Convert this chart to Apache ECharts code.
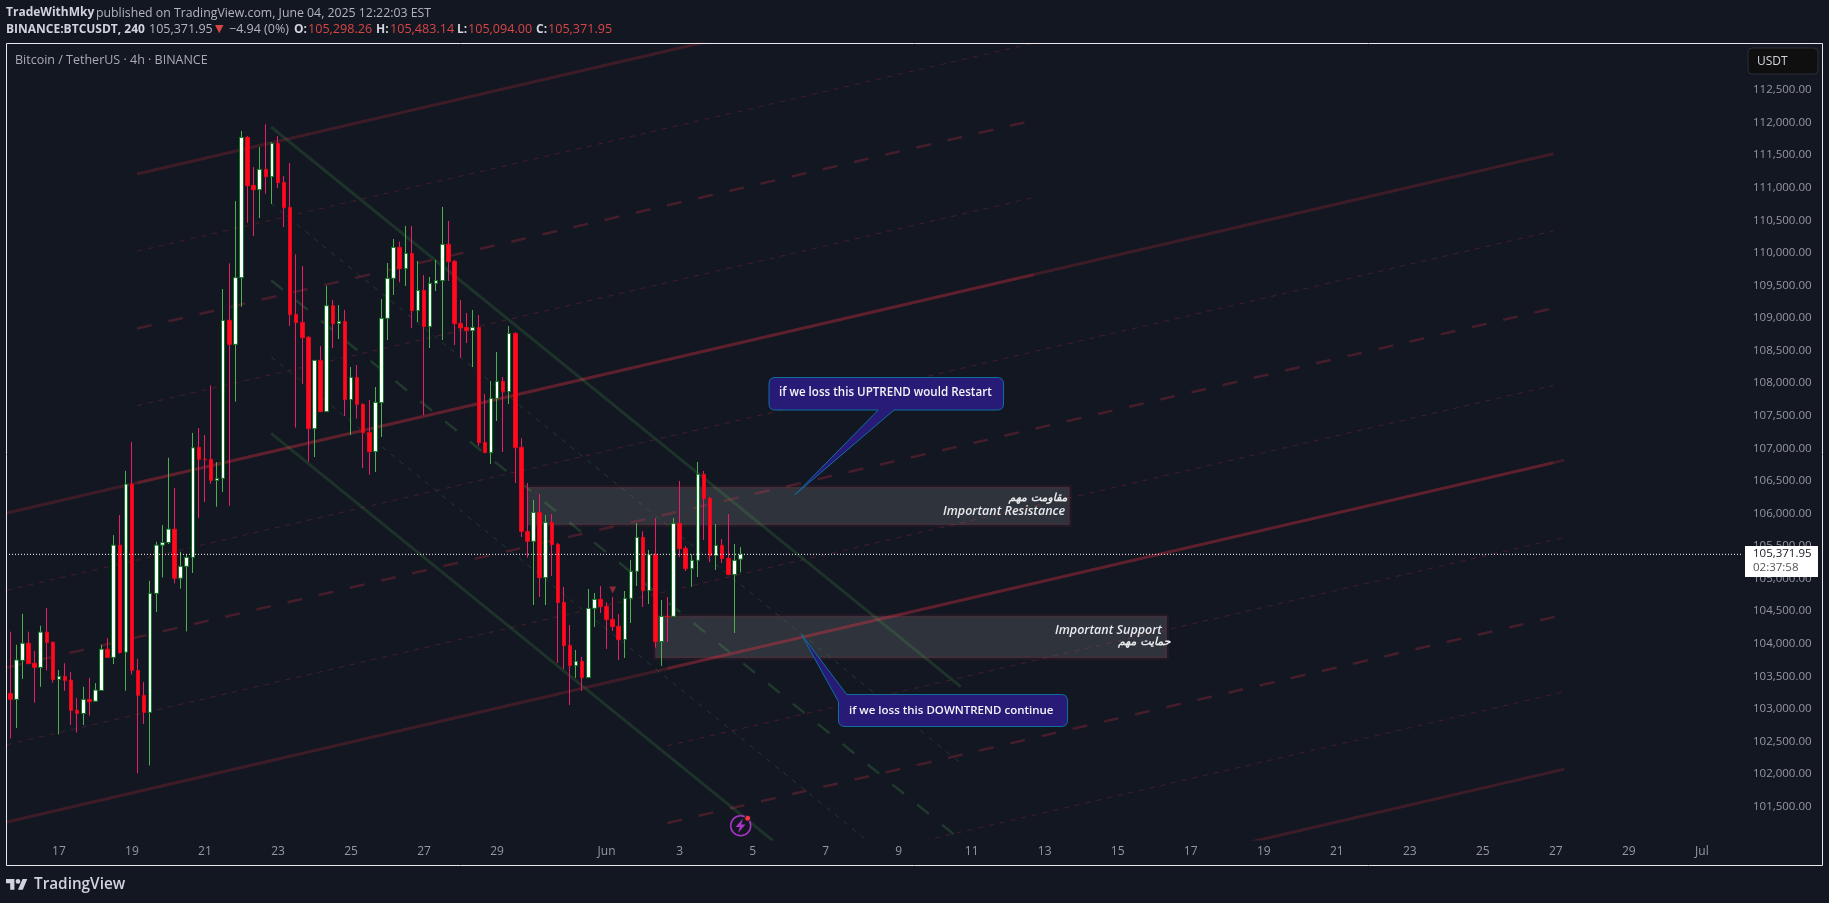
<!DOCTYPE html>
<html>
<head>
<meta charset="utf-8">
<title>BTCUSDT 4h</title>
<style>
html, body { margin: 0; padding: 0; background: #131722; }
#chart { width: 1829px; height: 903px; }
</style>
<script src="https://cdn.jsdelivr.net/npm/echarts@6/dist/echarts.min.js"></script>
</head>
<body>
<div id="chart"></div>
<script>
// 4h candles
var priceOpen = [103237,103145,103744,104007,103699,103636,104178,104024,103453,103499,103442,102980,102928,103145,103117,103282,103916,103790,105513,103870,106449,103590,103208,102946,104772,105513,105553,105759,105005,105188,105325,107014,106831,106830,106507,106538,108964,108595,109619,111773,111036,110969,111282,111169,111681,111082,110698,109056,108933,108703,107301,108350,107562,109189,108913,108948,107746,108089,107674,107244,106948,107700,108995,109609,110085,109757,109992,109112,109424,108867,109532,109573,110131,109870,108918,108856,108805,108856,107091,106932,107766,108027,107869,108764,107015,105725,105572,106017,105014,105863,105526,104635,103975,103663,103730,103479,104543,104681,104574,104374,104267,104062,104697,105111,105633,104814,105372,104032,104420,104420,105848,105464,105152,105280,106600,106232,105352,105510,105311,105060,105298];
var priceHigh = [104184,103984,104458,104184,103887,104275,104549,104024,103596,103699,103568,103168,103339,103476,103396,103984,104087,105667,105975,106654,107100,103767,103413,104966,105565,105821,106854,106392,105411,105371,107236,107311,107202,107966,106789,109445,109839,110795,111870,111793,111317,111624,111973,111701,111793,111179,111379,109977,109798,108723,108350,108570,109491,109276,109199,109123,108247,108278,107690,107741,107941,109291,109844,110212,110172,110412,110412,109875,109660,109629,109890,110704,110489,109890,109276,109077,109123,109046,107833,108033,108478,108094,108877,108780,107153,106467,106206,106298,105976,105991,105546,104871,104287,103904,103796,104840,104779,104886,104635,104717,104456,104809,105285,105853,105725,105439,105930,104671,104717,105930,106498,105500,105372,106790,106651,106252,105838,105608,105991,105531,105483];
var priceLow = [102546,102706,103459,103693,103094,103339,103590,103402,102609,103277,102752,102637,102752,102894,103117,103282,103790,103687,103847,103277,103528,102010,102769,102130,104486,105017,105530,104926,104846,104189,105085,105930,106175,106456,106103,106328,106118,107715,109173,110463,110258,110534,110908,110750,110995,110396,108877,107316,107986,106794,106866,107562,107562,108539,108677,107495,107204,107454,106697,106595,106636,107173,108662,109353,109547,109491,108846,108938,107511,108539,109414,108662,109568,108585,108391,108616,108247,107035,106932,106758,107419,106943,107680,106467,105638,105321,104594,104717,104594,105040,103704,103612,103059,103474,103274,103479,104257,104472,103919,104195,103750,103781,104318,104886,104564,104610,103939,103658,104026,104420,105331,105116,104871,105024,105592,105254,105132,105239,105060,104165,105094];
var priceClose = [103145,103750,104007,103693,103636,104178,104018,103448,103499,103436,102974,102928,103145,103111,103288,103916,103790,105513,103864,106449,103590,103208,102946,104772,105513,105553,105759,105005,105188,105325,107008,106831,106825,106507,106538,108964,108595,109619,111773,111031,110969,111282,111169,111681,111077,110693,109051,108928,108698,107301,108350,107562,109189,108913,108948,107746,108089,107674,107239,106948,107705,108995,109609,110085,109757,109992,109112,109424,108867,109532,109573,110131,109865,108913,108846,108805,108856,107086,106932,107766,108027,107869,108764,107009,105725,105572,106017,105014,105863,105521,104630,103970,103663,103730,103479,104543,104681,104569,104369,104262,104062,104697,105111,105633,104814,105367,104032,104420,104415,105848,105459,105152,105280,106600,106227,105352,105510,105306,105060,105280,105371.95];

// bar number of each date label, one bar = 4h
var dateTickBars = [8,20,32,44,56,68,80,98,110,122,134,146,158,170,182,194,206,218,230,242,254,266,278];
var dateTickLabels = ['17','19','21','23','25','27','29','Jun','3','5','7','9','11','13','15','17','19','21','23','25','27','29','Jul'];
var priceTicks = [101500,102000,102500,103000,103500,104000,104500,105000,105500,106000,106500,107000,107500,108000,108500,109000,109500,110000,110500,111000,111500,112000,112500];

var lastPrice = 105371.95;

// drawings: bar range and the price of the five channel lines at each end
var redChannelBars = [[20.84, 168.2], [-0.54, 253.6], [108, 255.4]];
var redChannelStart = [
    [111210, 110024, 108838, 107653, 106467],
    [106007, 104821, 103635, 102450, 101264],
    [103619, 102433, 101247, 100062, 98876]
];
var redChannelEnd = [
    [114407, 113221, 112035, 110850, 109664],
    [111522, 110336, 109150, 107965, 106779],
    [106818, 105632, 104446, 103261, 102075]
];
var greenChannelBars = [[42.88, 156.2]];
var greenChannelStart = [[111932, 110756, 109580, 108404, 107228]];
var greenChannelEnd = [[103341, 102165, 100989, 99813, 98637]];

var resistanceZone = [[85, 106406], [174.1, 105823]];
var supportZone = [[106, 104426], [190.1, 103781]];
var signalMark = [[99, 104825]];

var wickData = [], bodyData = [];
for (var i = 0; i < priceOpen.length; i++) {
    wickData.push([i, priceOpen[i], priceClose[i], priceLow[i], priceHigh[i]]);
    bodyData.push([i, priceOpen[i], priceClose[i], Math.min(priceOpen[i], priceClose[i]), Math.max(priceOpen[i], priceClose[i])]);
}

var uiFont = '"Open Sans", sans-serif';
var arabicFont = '"DejaVu Sans", sans-serif';

function channelSeries(bars, start, end, rgb) {
    var out = [];
    for (var c = 0; c < bars.length; c++) {
        for (var k = 0; k < 5; k++) {
            var solid = k === 0 || k === 4;
            var mid = k === 2;
            out.push({
                type: 'line',
                silent: true,
                z: 1,
                symbol: 'none',
                animation: false,
                data: [[bars[c][0], start[c][k]], [bars[c][1], end[c][k]]],
                lineStyle: {
                    color: 'rgba(' + rgb + ',' + (solid ? 0.19 : 0.23) + ')',
                    width: solid ? 3 : (mid ? 2.5 : 1),
                    type: solid ? 'solid' : (mid ? [15, 17] : [5, 6])
                }
            });
        }
    }
    return out;
}

var series = [].concat(
    channelSeries(redChannelBars, redChannelStart, redChannelEnd, '242,54,69'),
    channelSeries(greenChannelBars, greenChannelStart, greenChannelEnd, '76,175,80'),
    [
        {
            type: 'line',
            silent: true,
            z: 1,
            data: [],
            markArea: {
                silent: true,
                z: 1,
                itemStyle: {
                    color: 'rgba(255,255,255,0.12)',
                    borderColor: 'rgba(156,39,60,0.12)',
                    borderWidth: 4
                },
                data: [
                    [{coord: resistanceZone[0]}, {coord: resistanceZone[1]}],
                    [{coord: supportZone[0]}, {coord: supportZone[1]}]
                ]
            }
        },
        {
            name: 'wick',
            type: 'candlestick',
            z: 3,
            barWidth: 1,
            data: wickData,
            itemStyle: {
                color: '#4caf50',
                color0: '#e91e63',
                borderColor: '#4caf50',
                borderColor0: '#e91e63',
                borderWidth: 1
            }
        },
        {
            name: 'BTCUSDT',
            type: 'candlestick',
            z: 4,
            barWidth: 4,
            data: bodyData,
            itemStyle: {
                color: '#ffffff',
                color0: '#ff0a1e',
                borderColor: '#0a7a1e',
                borderColor0: '#e8061c',
                borderWidth: 1
            }
        },
        {
            type: 'scatter',
            z: 5,
            silent: true,
            symbol: 'triangle',
            symbolRotate: 180,
            symbolSize: 7,
            data: signalMark,
            itemStyle: {color: '#a8303f'}
        },
        {
            type: 'line',
            z: 6,
            silent: true,
            symbol: 'none',
            data: [[-0.7, lastPrice], [284.6, lastPrice]],
            lineStyle: {color: '#ffffff', width: 1, type: [1, 2]}
        }
    ]
);

function txt(x, y, text, color, font, align) {
    return {
        type: 'text',
        z: 50,
        silent: true,
        style: {
            x: x, y: y, text: text, fill: color, font: font,
            align: align || 'left', verticalAlign: 'middle'
        }
    };
}

// outlines for the callouts and the logo
echarts.graphic.registerShape('calloutUp', echarts.graphic.extendPath('M775 377.5H997Q1003.5 377.5 1003.5 384V404Q1003.5 410 997 410H894L795 494.7L878.3 410H775Q769 410 769 404V384Q769 377.5 775 377.5Z', {}));
echarts.graphic.registerShape('calloutDown', echarts.graphic.extendPath('M846.7 694.5H1061Q1067.5 694.5 1067.5 701V720Q1067.5 726.5 1061 726.5H845Q838.5 726.5 838.5 720V701.7L801.3 634.3Z', {}));
echarts.graphic.registerShape('tvLogo', echarts.graphic.extendPath('M14 22H7V11H0V4h14v18zM28 22h-8l7.5-18h8L28 22z M24 8a4 4 0 1 1-8 0 4 4 0 0 1 8 0z', {}));

var headColor = '#d1d4dc';
var headRed = '#d84545';

var graphics = [
    // frame
    {type: 'rect', z: 40, silent: true, shape: {x: 6.5, y: 43.5, width: 1816, height: 822}, style: {fill: 'none', stroke: '#e8e9ec', lineWidth: 1}},

    // header
    txt(6, 13, 'TradeWithMky', headColor, 'bold 12px ' + uiFont),
    txt(96, 13, 'published on TradingView.com, June 04, 2025 12:22:03 EST', '#b2b5be', '12.3px ' + uiFont),
    txt(6, 29.5, 'BINANCE:BTCUSDT, 240', headColor, 'bold 12px ' + uiFont),
    txt(149, 29.5, '105,371.95', '#b2b5be', '12.5px ' + uiFont),
    txt(215, 29.5, '▼', headRed, '11px ' + arabicFont),
    txt(229, 29.5, '−4.94 (0%)', '#b2b5be', '12.5px ' + uiFont),
    txt(294, 29.5, 'O:', headColor, 'bold 12px ' + uiFont),
    txt(308, 29.5, '105,298.26', headRed, '12.6px ' + uiFont),
    txt(376, 29.5, 'H:', headColor, 'bold 12px ' + uiFont),
    txt(390, 29.5, '105,483.14', headRed, '12.6px ' + uiFont),
    txt(457, 29.5, 'L:', headColor, 'bold 12px ' + uiFont),
    txt(468, 29.5, '105,094.00', headRed, '12.6px ' + uiFont),
    txt(536, 29.5, 'C:', headColor, 'bold 12px ' + uiFont),
    txt(548, 29.5, '105,371.95', headRed, '12.6px ' + uiFont),

    txt(15, 60, 'Bitcoin / TetherUS · 4h · BINANCE', '#a8abb4', '12.5px ' + uiFont),

    // currency button
    {type: 'rect', z: 45, silent: true, shape: {x: 1748, y: 48, width: 70, height: 26, r: 4}, style: {fill: '#0f0f0f', stroke: '#2a2e39', lineWidth: 1}},
    txt(1757, 62, 'USDT', headColor, '12px ' + uiFont),

    // last price box
    {type: 'rect', z: 45, silent: true, shape: {x: 1745, y: 546, width: 73, height: 31}, style: {fill: '#ffffff'}},
    txt(1753, 553.5, '105,371.95', '#131722', '11.5px ' + uiFont),
    txt(1753, 568, '02:37:58', '#555555', '11.5px ' + uiFont),

    // zone texts
    txt(1067.5, 498, 'مقاومت مهم', '#e8e9ec', 'italic bold 11px ' + arabicFont, 'right'),
    txt(1065, 511, 'Important Resistance', '#e8e9ec', 'italic 600 12.5px ' + uiFont, 'right'),
    txt(1162, 630, 'Important Support', '#e8e9ec', 'italic 600 12.5px ' + uiFont, 'right'),
    txt(1170.5, 642, 'حمایت مهم', '#e8e9ec', 'italic bold 11px ' + arabicFont, 'right'),

    // callouts
    {type: 'calloutUp', z: 30, silent: true, style: {fill: '#281b78', stroke: '#0e6f9f', lineWidth: 1}},
    txt(779, 393, 'if we loss this UPTREND would Restart', '#f4f4f8', '600 11.6px ' + uiFont),
    {type: 'calloutDown', z: 30, silent: true, style: {fill: '#281b78', stroke: '#0e6f9f', lineWidth: 1}},
    txt(849, 710.5, 'if we loss this DOWNTREND continue', '#f4f4f8', '600 11.5px ' + uiFont),

    // idea icon
    {type: 'circle', z: 30, silent: true, shape: {cx: 740.7, cy: 825.7, r: 10}, style: {fill: '#131722', stroke: '#a835c8', lineWidth: 1.5}},
    {type: 'polygon', z: 31, silent: true, shape: {points: [[743, 818.5], [735.5, 827], [739.8, 827], [738, 833], [745.5, 824.5], [741.2, 824.5]]}, style: {fill: '#a835c8'}},
    {type: 'circle', z: 32, silent: true, shape: {cx: 747.7, cy: 818.3, r: 3}, style: {fill: '#f23645', stroke: '#131722', lineWidth: 1}},

    // logo
    {type: 'tvLogo', z: 30, silent: true, x: 6, y: 876.6, scaleX: 0.6, scaleY: 0.6, style: {fill: '#d1d4dc'}},
    txt(34, 885, 'TradingView', '#d1d4dc', '600 15.3px ' + uiFont)
];

var myChart = echarts.init(document.getElementById('chart'));
var option = {
    animation: false,
    backgroundColor: '#131722',
    tooltip: {show: false},
    grid: {left: 6, top: 44, width: 1739, height: 795},
    xAxis: {
        type: 'value',
        min: -0.7,
        max: 285.09,
        axisLine: {show: false},
        axisTick: {show: false},
        splitLine: {show: false},
        axisLabel: {
            customValues: dateTickBars,
            margin: 7,
            color: '#9598a1',
            fontFamily: 'Open Sans',
            fontSize: 12,
            formatter: function (v) {
                return dateTickLabels[dateTickBars.indexOf(v)];
            }
        }
    },
    yAxis: {
        type: 'value',
        position: 'right',
        min: 101002,
        max: 113206,
        axisLine: {show: false},
        axisTick: {show: false},
        splitLine: {show: false},
        axisLabel: {
            customValues: priceTicks,
            margin: 8,
            color: '#9598a1',
            fontFamily: 'Open Sans',
            fontSize: 11.5,
            formatter: function (v) {
                return v.toLocaleString('en-US', {minimumFractionDigits: 2, maximumFractionDigits: 2});
            }
        }
    },
    graphic: {elements: graphics},
    series: series
};
myChart.setOption(option);
</script>
</body>
</html>
